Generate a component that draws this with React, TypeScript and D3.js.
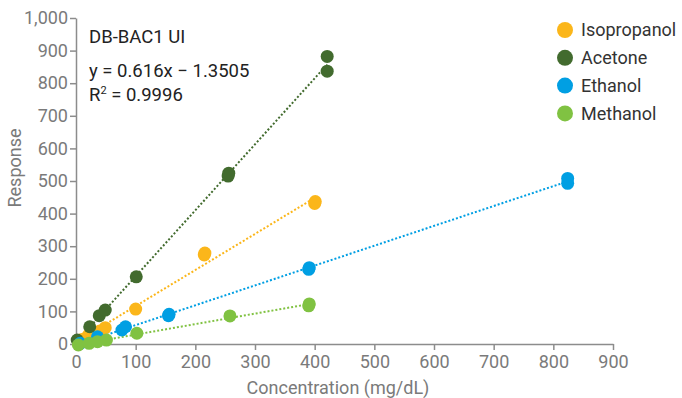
import React, { useEffect, useRef } from "react";
import * as d3 from "d3";

// [concentration mg/dL, response] pairs
const isopropanol: [number, number][] = [
  [10, 14], [21, 27], [40, 40], [49, 50], [100, 107], [215, 273], [216, 279], [400, 431], [401, 437],
];
const acetone: [number, number][] = [
  [2, 12], [23, 53], [39, 87], [49, 104], [101, 206], [255, 515], [256, 524], [421, 837], [421, 882],
];
const ethanol: [number, number][] = [
  [7, 2], [36, 22], [77, 43], [83, 53], [155, 87], [156, 91], [390, 229], [391, 234], [824, 493], [824, 508],
];
const methanol: [number, number][] = [
  [4, -3], [22, 2], [36, 7], [51, 12], [102, 33], [258, 86], [390, 117], [391, 123],
];

const seriesNames = ["Isopropanol", "Acetone", "Ethanol", "Methanol"];
const seriesData = [isopropanol, acetone, ethanol, methanol];
const seriesColors = ["#FBB61A", "#426B2E", "#009FE3", "#80C242"];

const xTicks = [0, 100, 200, 300, 400, 500, 600, 700, 800, 900];
const yTicks = [0, 100, 200, 300, 400, 500, 600, 700, 800, 900, 1000];

const annotation = ["DB-BAC1 UI", "y = 0.616x \u2212 1.3505"];

const App = () => {
  const ref = useRef<SVGSVGElement>(null);

  useEffect(() => {
    const svg = d3.select(ref.current);
    svg.selectAll("*").remove();

    const width = 682;
    const height = 398;
    const font = "Roboto, sans-serif";

    const x = d3.scaleLinear().domain([0, 900]).range([76, 613]);
    const y = d3.scaleLinear().domain([0, 1000]).range([344, 18]);

    svg.attr("width", width).attr("height", height);

    // axes
    const xAxis = svg
      .append("g")
      .attr("transform", `translate(0,${y(0)})`)
      .call(d3.axisBottom(x).tickValues(xTicks).tickSize(6).tickPadding(5).tickSizeOuter(0));
    const yAxis = svg
      .append("g")
      .attr("transform", `translate(${x(0)},0)`)
      .call(
        d3
          .axisLeft(y)
          .tickValues(yTicks)
          .tickSize(6)
          .tickPadding(2)
          .tickSizeOuter(0)
          .tickFormat(d3.format(","))
      );
    [xAxis, yAxis].forEach((g) => {
      g.select(".domain").attr("stroke", "#8c8c8c").attr("stroke-width", 1.5);
      g.selectAll(".tick line").attr("stroke", "#8c8c8c").attr("stroke-width", 1.5);
      g.selectAll(".tick text")
        .attr("fill", "#7a7a7a")
        .attr("font-family", font)
        .attr("font-size", 18);
    });

    // axis titles
    svg
      .append("text")
      .attr("x", 338)
      .attr("y", 394)
      .attr("text-anchor", "middle")
      .attr("fill", "#7a7a7a")
      .attr("font-family", font)
      .attr("font-size", 18)
      .text("Concentration (mg/dL)");
    svg
      .append("text")
      .attr("transform", `translate(21,168) rotate(-90)`)
      .attr("text-anchor", "middle")
      .attr("fill", "#7a7a7a")
      .attr("font-family", font)
      .attr("font-size", 18)
      .text("Response");

    // trend lines (least squares per series) then points
    seriesData.forEach((data, i) => {
      const mx = d3.mean(data, (d) => d[0])!;
      const my = d3.mean(data, (d) => d[1])!;
      const sxy = d3.sum(data, (d) => (d[0] - mx) * (d[1] - my));
      const sxx = d3.sum(data, (d) => (d[0] - mx) ** 2);
      const slope = sxy / sxx;
      const icpt = my - slope * mx;
      const [x0, x1] = d3.extent(data, (d) => d[0]) as [number, number];
      svg
        .append("line")
        .attr("x1", x(x0))
        .attr("y1", y(slope * x0 + icpt))
        .attr("x2", x(x1))
        .attr("y2", y(slope * x1 + icpt))
        .attr("stroke", seriesColors[i])
        .attr("stroke-width", 2)
        .attr("stroke-dasharray", "2,2");
    });

    seriesData.forEach((data, i) => {
      svg
        .append("g")
        .selectAll("circle")
        .data(data)
        .join("circle")
        .attr("cx", (d) => x(d[0]))
        .attr("cy", (d) => y(d[1]))
        .attr("r", 6.5)
        .attr("fill", seriesColors[i]);
    });

    // legend
    const legend = svg
      .append("g")
      .selectAll("g")
      .data(seriesNames)
      .join("g")
      .attr("transform", (d, i) => `translate(565,${30 + i * 27.8})`);
    legend
      .append("circle")
      .attr("r", 8)
      .attr("fill", (d, i) => seriesColors[i]);
    legend
      .append("text")
      .attr("x", 16)
      .attr("dy", "0.35em")
      .attr("fill", "#333")
      .attr("font-family", font)
      .attr("font-size", 18)
      .text((d) => d);

    // annotation
    const ann = svg
      .append("g")
      .attr("font-family", font)
      .attr("font-size", 18.5)
      .attr("fill", "#222");
    ann.append("text").attr("x", 89).attr("y", 43).text(annotation[0]);
    ann.append("text").attr("x", 89).attr("y", 77).text(annotation[1]);
    const r2 = ann.append("text").attr("x", 89).attr("y", 101);
    r2.append("tspan").text("R");
    r2.append("tspan").attr("font-size", 11).attr("dy", -7).text("2");
    r2.append("tspan").attr("dy", 7).text(" = 0.9996");
  }, []);

  return <svg ref={ref} style={{ position: "absolute", left: 0, top: 0 }}></svg>;
};

export default App;
